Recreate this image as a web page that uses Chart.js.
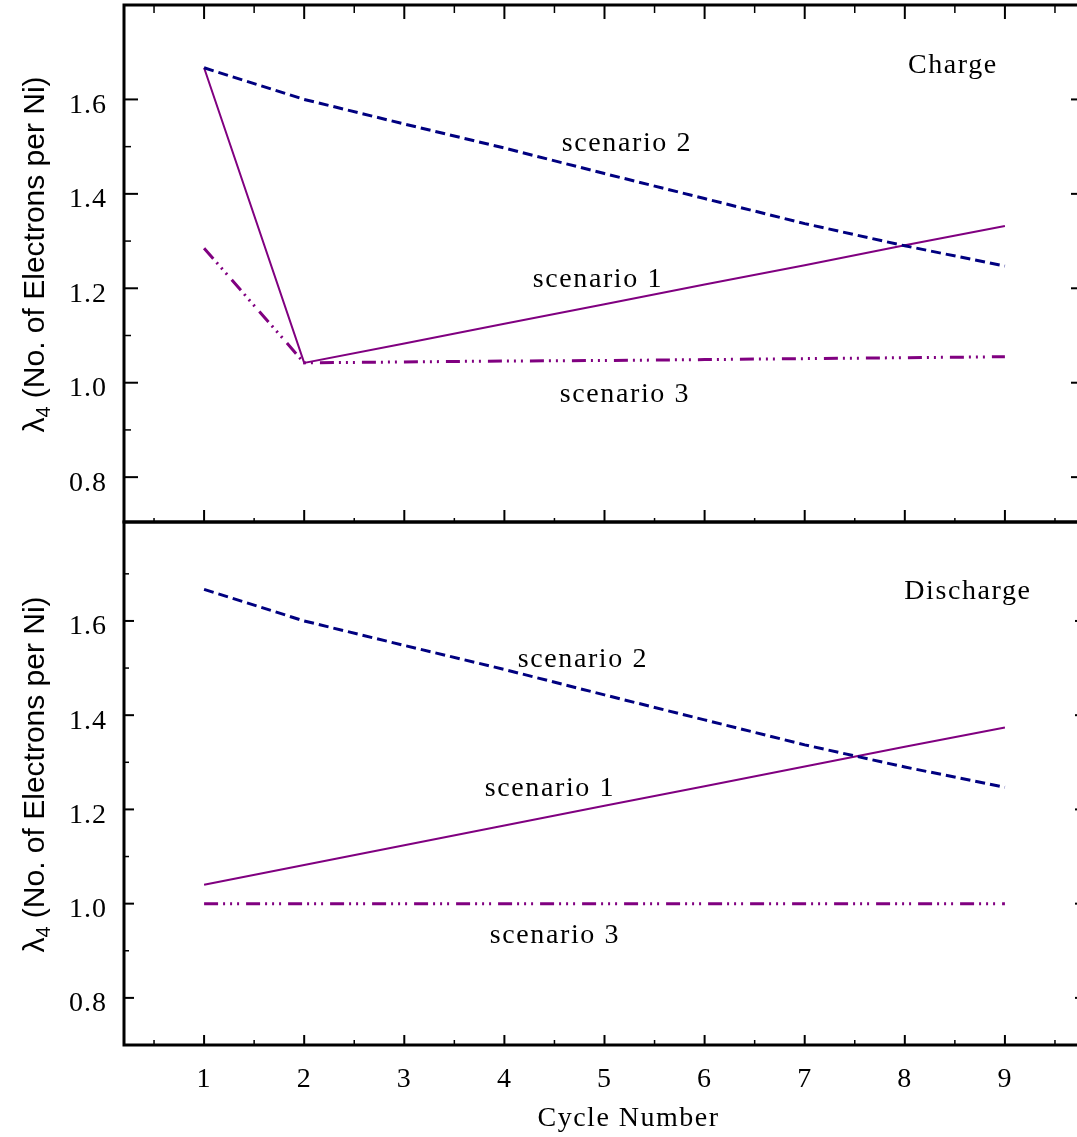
<!DOCTYPE html>
<html>
<head>
<meta charset="utf-8">
<script src="https://cdn.jsdelivr.net/npm/chart.js@4.4.1/dist/chart.umd.min.js"></script>
<style>
html,body{margin:0;padding:0;background:#fff;overflow:hidden;width:1077px;height:1137px;}
canvas{position:absolute;left:0;top:0;}
</style>
</head>
<body>
<canvas id="top" width="1100" height="1137"></canvas>
<canvas id="bot" width="1100" height="1137"></canvas>
<script>
// ---- data ----
const cycles = [1, 2, 3, 4, 5, 6, 7, 8, 9];
const chargeScenario1 = [1.667, 1.042, 1.083, 1.125, 1.166, 1.208, 1.249, 1.291, 1.332];
const chargeScenario2 = [1.667, 1.600, 1.548, 1.497, 1.443, 1.390, 1.337, 1.290, 1.247];
const chargeScenario3 = [1.285, 1.042, 1.044, 1.046, 1.047, 1.049, 1.051, 1.053, 1.055];
const dischargeScenario1 = [1.040, 1.082, 1.124, 1.166, 1.208, 1.249, 1.291, 1.333, 1.374];
const dischargeScenario2 = [1.667, 1.600, 1.548, 1.497, 1.443, 1.390, 1.337, 1.290, 1.247];
const dischargeScenario3 = [1.000, 1.000, 1.000, 1.000, 1.000, 1.000, 1.000, 1.000, 1.000];
const xTickLabels = [1, 2, 3, 4, 5, 6, 7, 8, 9];
const yTickLabels = [0.8, 1.0, 1.2, 1.4, 1.6];
const xMinorTicks = [0.5, 1.5, 2.5, 3.5, 4.5, 5.5, 6.5, 7.5, 8.5, 9.5];
const yMinorTicksCharge = [0.9, 1.1, 1.3, 1.5];
const yMinorTicksDischarge = [0.9, 1.1, 1.3, 1.5, 1.7];
const xTitle = 'Cycle Number';
const yTitleSymbol = 'λ';
const yTitleSub = '4';
const yTitleRest = ' (No. of Electrons per Ni)';
const chargeNotes = [
  {text: 'Charge', x: 8.48, y: 1.655},
  {text: 'scenario 2', x: 5.224, y: 1.49},
  {text: 'scenario 1', x: 4.934, y: 1.202},
  {text: 'scenario 3', x: 5.204, y: 0.959}
];
const dischargeNotes = [
  {text: 'Discharge', x: 8.63, y: 1.647},
  {text: 'scenario 2', x: 4.784, y: 1.502},
  {text: 'scenario 1', x: 4.455, y: 1.229},
  {text: 'scenario 3', x: 4.505, y: 0.917}
];

// ---- styles ----
const PURPLE = '#800080';
const NAVY = '#000080';
const SERIF = '"Liberation Serif", "Times New Roman", serif';
const SANS = '"Liberation Sans", Arial, sans-serif';

function pts(vals) { return cycles.map((c, i) => ({x: c, y: vals[i]})); }
function datasets(s1, s2, s3) {
  return [
    {data: pts(s2), borderColor: NAVY, borderWidth: 3, borderDash: [10, 5]},
    {data: pts(s3), borderColor: PURPLE, borderWidth: 3, borderDash: [14, 5, 2, 5, 2, 5, 2, 7]},
    {data: pts(s1), borderColor: PURPLE, borderWidth: 2}
  ].map(d => Object.assign(d, {pointRadius: 0, tension: 0, fill: false, borderCapStyle: 'butt'}));
}

function framePlugin(opts) {
  return {
    id: 'frame',
    beforeDraw(chart) { chart.ctx.letterSpacing = '1px'; },
    afterDraw(chart) {
      const ctx = chart.ctx, a = chart.chartArea, xs = chart.scales.x, ys = chart.scales.y;
      ctx.save();
      ctx.strokeStyle = '#000';
      ctx.lineCap = 'butt';
      // ticks
      ctx.lineWidth = 2;
      const tick = (x1, y1, x2, y2) => { ctx.beginPath(); ctx.moveTo(x1, y1); ctx.lineTo(x2, y2); ctx.stroke(); };
      yTickLabels.forEach(v => { const p = ys.getPixelForValue(v); tick(a.left, p, a.left + opts.leftMajor, p); tick(a.right, p, a.right - opts.leftMajor, p); });
      ctx.lineWidth = 1.5;
      opts.yMinor.forEach(v => { const p = ys.getPixelForValue(v); if (p < a.top + 2 || p > a.bottom - 2) return; tick(a.left, p, a.left + opts.leftMinor, p); tick(a.right, p, a.right - opts.leftMinor, p); });
      ctx.lineWidth = 2;
      xTickLabels.forEach(v => { const p = xs.getPixelForValue(v);
        if (opts.topMajor) tick(p, a.top, p, a.top + opts.topMajor);
        if (opts.botMajor) tick(p, a.bottom, p, a.bottom - opts.botMajor); });
      ctx.lineWidth = 1.5;
      xMinorTicks.forEach(v => { const p = xs.getPixelForValue(v);
        if (opts.topMinor) tick(p, a.top, p, a.top + opts.topMinor);
        if (opts.botMinor) tick(p, a.bottom, p, a.bottom - opts.botMinor); });
      // frame
      ctx.lineWidth = 3;
      ctx.strokeRect(a.left, a.top, a.right - a.left, a.bottom - a.top);
      // notes
      ctx.fillStyle = '#000';
      ctx.font = '28px ' + SERIF;
      ctx.letterSpacing = '1.6px';
      ctx.textAlign = 'center';
      ctx.textBaseline = 'alphabetic';
      opts.notes.forEach(n => ctx.fillText(n.text, xs.getPixelForValue(n.x), ys.getPixelForValue(n.y)));
      // y title
      ctx.letterSpacing = '0px';
      const big = '30px ' + SANS, small = '20px ' + SANS;
      ctx.font = big; const w1 = ctx.measureText(yTitleSymbol).width;
      const w3 = ctx.measureText(yTitleRest).width;
      ctx.font = small; const w2 = ctx.measureText(yTitleSub).width;
      const total = w1 + w2 + w3;
      const cy = (a.top + a.bottom) / 2 + opts.titleShift;
      ctx.translate(44, cy);
      ctx.rotate(-Math.PI / 2);
      ctx.textAlign = 'left';
      let x0 = -total / 2;
      ctx.font = big; ctx.fillText(yTitleSymbol, x0, 0);
      ctx.font = small; ctx.fillText(yTitleSub, x0 + w1, 6);
      ctx.font = big; ctx.fillText(yTitleRest, x0 + w1 + w2, 0);
      ctx.restore();
      if (opts.xTitle) {
        ctx.save();
        ctx.fillStyle = '#000';
        ctx.font = '28px ' + SERIF;
        ctx.letterSpacing = '1.5px';
        ctx.textAlign = 'center';
        ctx.textBaseline = 'alphabetic';
        ctx.fillText(xTitle, xs.getPixelForValue(5.24), 1126);
        ctx.restore();
      }
    }
  };
}

function yScale(min, max) {
  return {
    type: 'linear', min: min, max: max, position: 'left',
    afterFit: s => { s.width = 124; s.paddingTop = 0; s.paddingBottom = 0; },
    afterBuildTicks: s => { s.ticks = yTickLabels.map(v => ({value: v})); },
    grid: {display: false, drawTicks: false}, border: {display: false},
    ticks: {color: '#000', font: {family: SERIF, size: 28}, padding: 17, labelOffset: 6,
            callback: v => Number(v).toFixed(1)}
  };
}

Chart.defaults.animation = false;

new Chart(document.getElementById('top'), {
  type: 'line',
  data: {datasets: datasets(chargeScenario1, chargeScenario2, chargeScenario3)},
  options: {
    responsive: false, devicePixelRatio: 1, animation: false,
    layout: {padding: {top: 5, bottom: 615, left: 0, right: 15}},
    plugins: {legend: {display: false}, tooltip: {enabled: false}},
    scales: {
      x: {type: 'linear', min: 0.2, max: 9.8, display: false},
      y: yScale(0.705, 1.8)
    }
  },
  plugins: [framePlugin({notes: chargeNotes, yMinor: yMinorTicksCharge, leftMajor: 14, leftMinor: 7, topMajor: 14, topMinor: 8, botMajor: 12, botMinor: 4, titleShift: -9, xTitle: false})]
});

new Chart(document.getElementById('bot'), {
  type: 'line',
  data: {datasets: datasets(dischargeScenario1, dischargeScenario2, dischargeScenario3)},
  options: {
    responsive: false, devicePixelRatio: 1, animation: false,
    layout: {padding: {top: 522, bottom: 0, left: 0, right: 15}},
    plugins: {legend: {display: false}, tooltip: {enabled: false}},
    scales: {
      x: {type: 'linear', min: 0.2, max: 9.8, position: 'bottom',
          afterFit: s => { s.height = 92; s.paddingLeft = 0; s.paddingRight = 0; },
          afterBuildTicks: s => { s.ticks = xTickLabels.map(v => ({value: v})); },
          grid: {display: false, drawTicks: false}, border: {display: false},
          ticks: {color: '#000', font: {family: SERIF, size: 28}, padding: 18, maxRotation: 0,
                  callback: v => String(v)}},
      y: yScale(0.7, 1.81)
    }
  },
  plugins: [framePlugin({notes: dischargeNotes, yMinor: yMinorTicksDischarge, leftMajor: 10, leftMinor: 5, topMajor: 0, topMinor: 0, botMajor: 10, botMinor: 5, titleShift: -9, xTitle: true})]
});
</script>
</body>
</html>
